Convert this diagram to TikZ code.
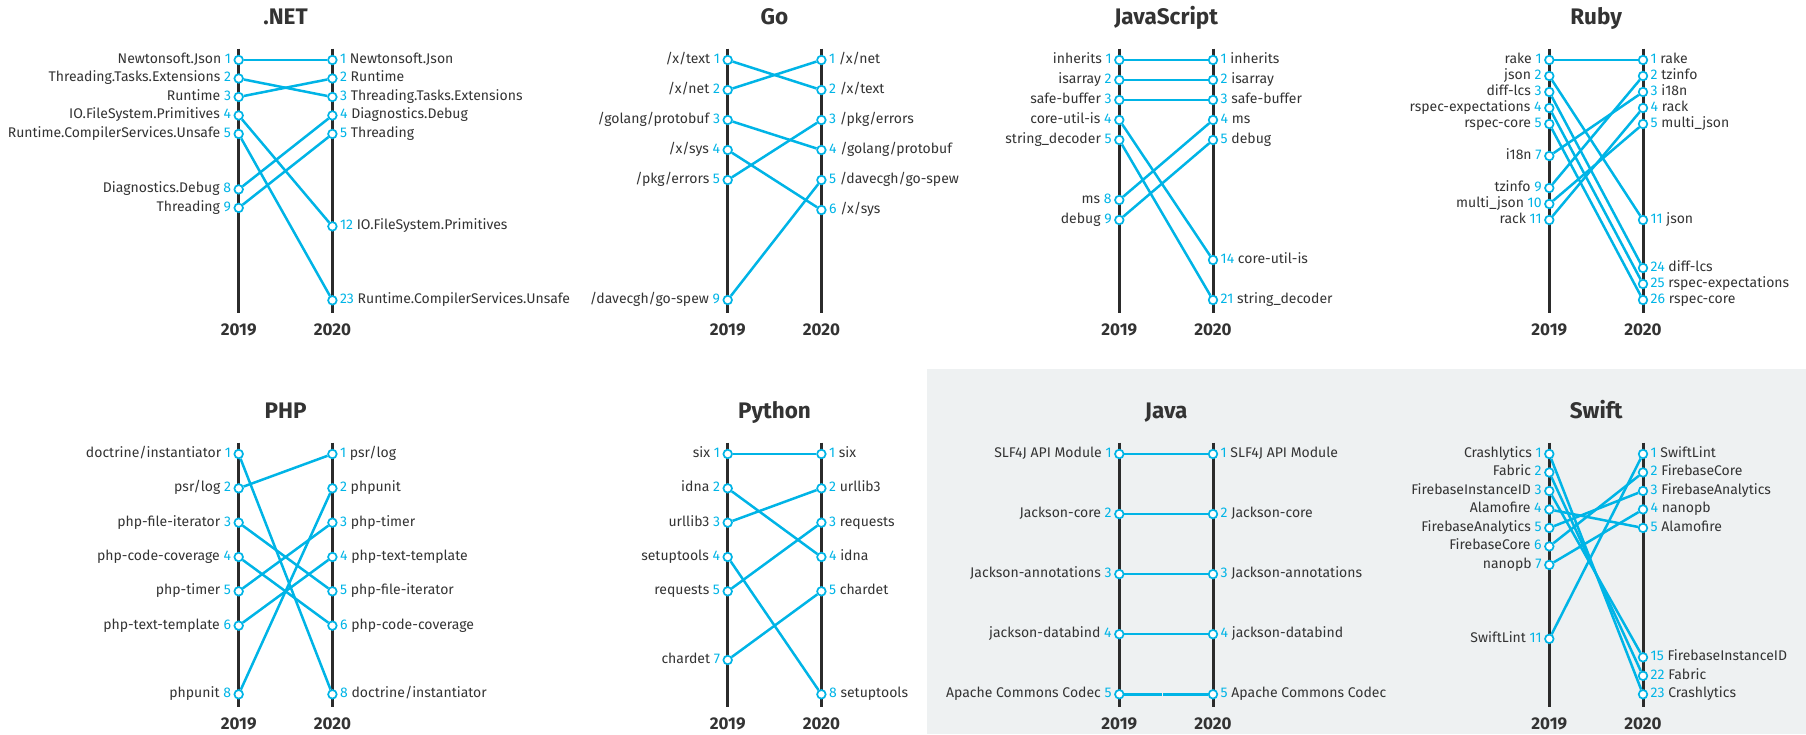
\documentclass[tikz,border=0pt]{standalone}
\usepackage{fontspec}
\setmainfont{Fira Sans}
\definecolor{bl}{HTML}{00B4E6}
\definecolor{ax}{HTML}{2B2B2B}
\definecolor{tx}{HTML}{333333}
\definecolor{bgc}{HTML}{EEF1F2}
\tikzset{
 dot/.style={circle, draw=bl, fill=white, line width=1.7pt, inner sep=0pt, minimum size=8.6pt},
 lbl/.style={inner sep=0pt, text=tx, font=\fontsize{14}{16}\selectfont},
 link/.style={draw=bl, line width=2.5pt},
 axisline/.style={draw=ax, line width=3pt},
 ttl/.style={inner sep=0pt, text=tx, font=\fontsize{22.5}{26}\selectfont\bfseries, anchor=base},
 yr/.style={inner sep=0pt, text=tx, font=\fontsize{17}{20}\selectfont\bfseries, anchor=base},
}
\newcommand\mySetPanel[5]{%
  \def\pfx{#1}\def\xa{#3}\pgfmathsetmacro\xb{#3+93.7}\def\yz{#4}\def\stp{#5}%
  \coordinate (#1ta) at (\xa,\yz-11.5);
  \coordinate (#1ea) at (\xa,\yz+252.8);
  \coordinate (#1tb) at (\xb,\yz-11.5);
  \coordinate (#1eb) at (\xb,\yz+252.8);
  \draw[axisline] (#1ta) -- (#1ea);
  \draw[axisline] (#1tb) -- (#1eb);
  \node[ttl] (#1title) at ({(\xa+\xb)/2},\yz-35.7) {#2};
  \node[yr] (#1ya) at (\xa,\yz+275.3) {2019};
  \node[yr] (#1yb) at (\xb,\yz+275.3) {2020};
}
\newcommand\myL[3]{%
  \node[dot] (\pfx a#1) at (\xa,\yz+#2*\stp) {};
  \node[lbl,anchor=base east] (\pfx la#1) at (\xa-7.5,\yz+#2*\stp+3.4) {#3 \textcolor{bl}{#1}};
}
\newcommand\myR[3]{%
  \node[dot] (\pfx b#1) at (\xb,\yz+#2*\stp) {};
  \node[lbl,anchor=base west] (\pfx lb#1) at (\xb+7.5,\yz+#2*\stp+3.4) {\textcolor{bl}{#1} #3};
}
\newcommand\myC[2]{\draw[link] (\pfx a#1) -- (\pfx b#2);}
\begin{document}
\begin{tikzpicture}[x=1pt,y=-1pt]
\useasboundingbox (0,0) rectangle (1806,734);
\fill[bgc] (927,369) rectangle (1806,734);

% ---------- .NET
\mySetPanel{net}{.NET}{238.7}{60}{18.485}
\myL{1}{0}{Newtonsoft.Json}
\myL{2}{1}{Threading.Tasks.Extensions}
\myL{3}{2}{Runtime}
\myL{4}{3}{IO.FileSystem.Primitives}
\myL{5}{4}{Runtime.CompilerServices.Unsafe}
\myL{8}{7}{Diagnostics.Debug}
\myL{9}{8}{Threading}
\myR{1}{0}{Newtonsoft.Json}
\myR{2}{1}{Runtime}
\myR{3}{2}{Threading.Tasks.Extensions}
\myR{4}{3}{Diagnostics.Debug}
\myR{5}{4}{Threading}
\myR{12}{9}{IO.FileSystem.Primitives}
\myR{23}{13}{Runtime.CompilerServices.Unsafe}
\myC{1}{1}\myC{2}{3}\myC{3}{2}\myC{4}{12}\myC{5}{23}\myC{8}{4}\myC{9}{5}

% ---------- Go
\mySetPanel{go}{Go}{727.7}{60}{30}
\myL{1}{0}{/x/text}
\myL{2}{1}{/x/net}
\myL{3}{2}{/golang/protobuf}
\myL{4}{3}{/x/sys}
\myL{5}{4}{/pkg/errors}
\myL{9}{8}{/davecgh/go-spew}
\myR{1}{0}{/x/net}
\myR{2}{1}{/x/text}
\myR{3}{2}{/pkg/errors}
\myR{4}{3}{/golang/protobuf}
\myR{5}{4}{/davecgh/go-spew}
\myR{6}{5}{/x/sys}
\myC{1}{2}\myC{2}{1}\myC{3}{4}\myC{4}{6}\myC{5}{3}\myC{9}{5}

% ---------- JavaScript
\mySetPanel{js}{JavaScript}{1119.3}{60}{20}
\myL{1}{0}{inherits}
\myL{2}{1}{isarray}
\myL{3}{2}{safe-buffer}
\myL{4}{3}{core-util-is}
\myL{5}{4}{string\_decoder}
\myL{8}{7}{ms}
\myL{9}{8}{debug}
\myR{1}{0}{inherits}
\myR{2}{1}{isarray}
\myR{3}{2}{safe-buffer}
\myR{4}{3}{ms}
\myR{5}{4}{debug}
\myR{14}{10}{core-util-is}
\myR{21}{12}{string\_decoder}
\myC{1}{1}\myC{2}{2}\myC{3}{3}\myC{4}{14}\myC{5}{21}\myC{8}{4}\myC{9}{5}

% ---------- Ruby
\mySetPanel{rb}{Ruby}{1549.3}{60}{16}
\myL{1}{0}{rake}
\myL{2}{1}{json}
\myL{3}{2}{diff-lcs}
\myL{4}{3}{rspec-expectations}
\myL{5}{4}{rspec-core}
\myL{7}{6}{i18n}
\myL{9}{8}{tzinfo}
\myL{10}{9}{multi\_json}
\myL{11}{10}{rack}
\myR{1}{0}{rake}
\myR{2}{1}{tzinfo}
\myR{3}{2}{i18n}
\myR{4}{3}{rack}
\myR{5}{4}{multi\_json}
\myR{11}{10}{json}
\myR{24}{13}{diff-lcs}
\myR{25}{14}{rspec-expectations}
\myR{26}{15}{rspec-core}
\myC{1}{1}\myC{2}{11}\myC{3}{24}\myC{4}{25}\myC{5}{26}\myC{7}{3}\myC{9}{2}\myC{10}{5}\myC{11}{4}

% ---------- PHP
\mySetPanel{php}{PHP}{238.7}{454}{34.33}
\myL{1}{0}{doctrine/instantiator}
\myL{2}{1}{psr/log}
\myL{3}{2}{php-file-iterator}
\myL{4}{3}{php-code-coverage}
\myL{5}{4}{php-timer}
\myL{6}{5}{php-text-template}
\myL{8}{7}{phpunit}
\myR{1}{0}{psr/log}
\myR{2}{1}{phpunit}
\myR{3}{2}{php-timer}
\myR{4}{3}{php-text-template}
\myR{5}{4}{php-file-iterator}
\myR{6}{5}{php-code-coverage}
\myR{8}{7}{doctrine/instantiator}
\myC{1}{8}\myC{2}{1}\myC{3}{5}\myC{4}{6}\myC{5}{3}\myC{6}{4}\myC{8}{2}

% ---------- Python
\mySetPanel{py}{Python}{727.7}{454}{34.33}
\myL{1}{0}{six}
\myL{2}{1}{idna}
\myL{3}{2}{urllib3}
\myL{4}{3}{setuptools}
\myL{5}{4}{requests}
\myL{7}{6}{chardet}
\myR{1}{0}{six}
\myR{2}{1}{urllib3}
\myR{3}{2}{requests}
\myR{4}{3}{idna}
\myR{5}{4}{chardet}
\myR{8}{7}{setuptools}
\myC{1}{1}\myC{2}{4}\myC{3}{2}\myC{4}{8}\myC{5}{3}\myC{7}{5}

% ---------- Java
\mySetPanel{jv}{Java}{1119.3}{454}{60.07}
\myL{1}{0}{SLF4J API Module}
\myL{2}{1}{Jackson-core}
\myL{3}{2}{Jackson-annotations}
\myL{4}{3}{jackson-databind}
\myL{5}{4}{Apache Commons Codec}
\myR{1}{0}{SLF4J API Module}
\myR{2}{1}{Jackson-core}
\myR{3}{2}{Jackson-annotations}
\myR{4}{3}{jackson-databind}
\myR{5}{4}{Apache Commons Codec}
\myC{1}{1}\myC{2}{2}\myC{3}{3}\myC{4}{4}\myC{5}{5}
\fill[bgc] (1161.6,690) rectangle (1163.2,699);

% ---------- Swift
\mySetPanel{sw}{Swift}{1549.3}{454}{18.485}
\myL{1}{0}{Crashlytics}
\myL{2}{1}{Fabric}
\myL{3}{2}{FirebaseInstanceID}
\myL{4}{3}{Alamofire}
\myL{5}{4}{FirebaseAnalytics}
\myL{6}{5}{FirebaseCore}
\myL{7}{6}{nanopb}
\myL{11}{10}{SwiftLint}
\myR{1}{0}{SwiftLint}
\myR{2}{1}{FirebaseCore}
\myR{3}{2}{FirebaseAnalytics}
\myR{4}{3}{nanopb}
\myR{5}{4}{Alamofire}
\myR{15}{11}{FirebaseInstanceID}
\myR{22}{12}{Fabric}
\myR{23}{13}{Crashlytics}
\myC{1}{23}\myC{2}{22}\myC{3}{15}\myC{4}{5}\myC{5}{3}\myC{6}{2}\myC{7}{4}\myC{11}{1}
\end{tikzpicture}
\end{document}
